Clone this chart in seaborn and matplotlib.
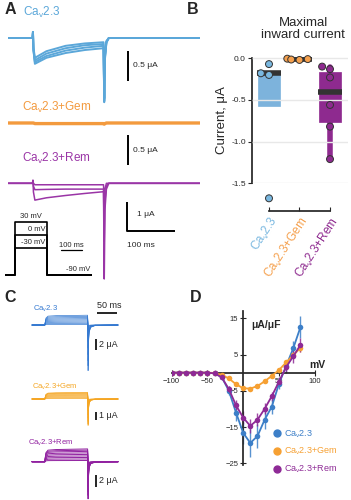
import numpy as np
import pandas as pd
import matplotlib
matplotlib.use("Agg")
import matplotlib.pyplot as plt
import seaborn as sns
from matplotlib.lines import Line2D

sns.set_theme(style="ticks")
plt.rcParams['font.family'] = ['Liberation Sans', 'DejaVu Sans']
plt.rcParams['mathtext.fontset'] = 'custom'
plt.rcParams['mathtext.rm'] = 'Liberation Sans'
plt.rcParams['mathtext.it'] = 'Liberation Sans:italic'
plt.rcParams['mathtext.bf'] = 'Liberation Sans:bold'

# ---------------- data ----------------
CAV = "Ca$_\\mathrm{v}$2.3"
groups = [CAV, CAV + "+Gem", CAV + "+Rem"]

# Panel A: example traces (time in ms, current in uA), key points
a_t = [0, 51, 52, 53, 56, 80, 120, 160, 199, 200.5, 202, 205, 210, 400]
a_wt_traces = [
    [0, 0, 0.10, -0.20, -0.43, -0.33, -0.25, -0.20, -0.17, -1.07, -0.35, -0.08, 0, 0],
    [0, 0, 0.10, -0.20, -0.40, -0.30, -0.21, -0.16, -0.13, -1.05, -0.33, -0.07, 0, 0],
    [0, 0, 0.10, -0.18, -0.37, -0.26, -0.17, -0.12, -0.10, -1.02, -0.30, -0.06, 0, 0],
    [0, 0, 0.10, -0.15, -0.33, -0.22, -0.13, -0.09, -0.07, -1.00, -0.28, -0.05, 0, 0],
]
a_gem_traces = [
    [0, 0, 0, 0, -0.01, -0.01, -0.01, -0.01, -0.01, -0.02, -0.01, 0, 0, 0],
]
a_rem_traces = [
    [0, 0, 0.10, -0.30, -0.58, -0.50, -0.42, -0.35, -0.29, -3.30, -0.90, -0.20, 0, 0],
    [0, 0, 0.10, -0.10, -0.22, -0.21, -0.20, -0.20, -0.20, -2.00, -0.60, -0.10, 0, 0],
    [0, 0, 0.10, 0.00, -0.05, -0.05, -0.05, -0.05, -0.05, -0.80, -0.20, 0.00, 0, 0],
]
# voltage protocol
prot_t = [-48, 0, 0, 150, 150, 366]
prot_steps = [30, 0, -30]
prot_hold = -90

# Panel B: maximal inward current (uA)
box_q1 = [-0.57, -0.03, -0.76]
box_med = [-0.18, -0.01, -0.40]
box_q3 = [-0.16, 0.00, -0.16]
box_lo = [-0.57, -0.03, -1.21]
box_hi = [-0.16, 0.00, -0.10]
pts_wt = [-0.07, -0.18, -0.20, -1.68]
pts_gem = [-0.005, -0.01, -0.015, -0.02]
pts_rem = [-0.10, -0.13, -0.23, -0.56, -0.82, -1.21]

# Panel C: current families (uA)
c_t = [0, 32, 33, 35, 40, 60, 139, 139.6, 140.2, 141.2, 143, 147, 158, 215]
c_step_shape = [0, 0, 0.3, 0.75, 0.95, 1.0, 1.05, 0.4, 0, 0, 0, 0, 0, 0]
c_tail_shape = [0, 0, 0, 0, 0, 0, 0, 0, 1.0, 0.4, 0.15, 0.05, 0.01, 0]
c_wt_amp = [0.1, 0.3, 0.5, 0.7, 0.9, 1.1, 1.3, 1.5, 1.7]
c_wt_tail = [-0.3, -1.0, -2.0, -3.0, -4.2, -5.4, -6.5, -7.4, -8.3]
c_gem_amp = [0.05, 0.15, 0.25, 0.35, 0.45, 0.55, 0.65, 0.72, 0.78]
c_gem_tail = [-0.2, -0.6, -1.0, -1.5, -2.0, -2.4, -2.8, -3.1, -3.3]
c_rem_amp = [0.2, 0.45, 0.7, 0.95, 1.2, 1.45, 1.7, 1.9, 2.1]
c_rem_tail = [-0.5, -1.2, -2.0, -2.8, -3.6, -4.4, -5.2, -5.8, -6.4]

# Panel D: I-V (uA/uF)
d_mv = [-100, -90, -80, -70, -60, -50, -40, -30, -20, -10, 0, 10, 20, 30, 40, 50, 60, 70, 80]
d_wt = [0, 0, 0, 0, 0, 0, -0.2, -1.2, -5.0, -11.0, -16.6, -19.4, -17.5, -13.0, -9.4, -3.1, 1.8, 6.7, 12.5]
d_wt_err = [0, 0, 0, 0, 0, 0, 0.2, 0.5, 1.2, 2.2, 3.0, 3.8, 3.2, 2.5, 2.0, 1.5, 1.5, 2.0, 3.0]
d_gem = [0, 0, 0, 0, 0, 0, -0.1, -0.6, -1.6, -3.2, -4.3, -4.4, -3.7, -2.4, -0.9, 0.7, 2.8, 4.8, 6.8]
d_gem_err = [0, 0, 0, 0, 0, 0, 0.1, 0.2, 0.3, 0.4, 0.5, 0.5, 0.5, 0.5, 0.5, 0.6, 0.8, 1.0, 1.2]
d_rem = [0, 0, 0, 0, 0, 0, -0.2, -1.3, -4.5, -9.0, -12.4, -14.7, -13.0, -10.0, -6.5, -2.5, 1.5, 4.5, 7.6]
d_rem_err = [0, 0, 0, 0, 0, 0, 0.2, 0.4, 0.9, 1.4, 1.8, 2.0, 1.8, 1.5, 1.2, 1.2, 1.5, 1.8, 2.0]

# colours
colA = ['#5ba7d9', '#f39a3e', '#9a35a6']
colB_box = ['#7db3dc', '#f5a04d', '#8e2a8f']
colB_pts = ['#7ab8e0', '#f5a04d', '#8e2a8f']
colC = ['#3479d1', '#f5a623', '#9121a0']
colD = ['#3c7fc8', '#f6a032', '#8e2a96']

# ---------------- figure ----------------
W, H = 351, 500
fig = plt.figure(figsize=(W / 100, H / 100), dpi=100)


def add_ax(x0, y0, x1, y1):
    return fig.add_axes([x0 / W, 1 - y1 / H, (x1 - x0) / W, (y1 - y0) / H])


def draw_traces(ax, t, traces, color, lw):
    rows = [(tt, v, k) for k, tr in enumerate(traces) for tt, v in zip(t, tr)]
    df = pd.DataFrame(rows, columns=['t', 'I', 'trace'])
    sns.lineplot(data=df, x='t', y='I', units='trace', estimator=None, color=color,
                 lw=lw, ax=ax, sort=False, legend=False)


def bar(ax, xs, ys, lw=1.4):
    ax.plot(xs, ys, color='black', lw=lw, solid_capstyle='butt', clip_on=False)


# ---------- Panel A ----------
fig.text(5 / W, 1 - 10 / H, "A", fontsize=11.5, fontweight='bold', va='center', ha='left')

axA1 = add_ax(8, 25, 200, 112)
draw_traces(axA1, a_t, a_wt_traces, colA[0], 1.4)
axA1.set_xlim(0, 400); axA1.set_ylim(-1.233, 0.217)
axA1.axis('off')
axA1.text(31, 0.433, CAV, color=colA[0], fontsize=8.5, ha='left', va='center')
bar(axA1, [250, 250], [-0.22, -0.72])
axA1.text(260, -0.45, "0.5 μA", fontsize=6, ha='left', va='center')

axA2 = add_ax(8, 112, 200, 170)
draw_traces(axA2, a_t, a_gem_traces, colA[1], 2.4)
axA2.set_xlim(0, 400); axA2.set_ylim(-0.783, 0.183)
axA2.axis('off')
axA2.text(29, 0.267, CAV + "+Gem", color=colA[1], fontsize=8.5, ha='left', va='center')
bar(axA2, [250, 250], [-0.2, -0.7])
axA2.text(260, -0.45, "0.5 μA", fontsize=6, ha='left', va='center')

axA3 = add_ax(8, 170, 200, 290)
draw_traces(axA3, a_t, a_rem_traces, colA[2], 1.1)
axA3.set_xlim(0, 400); axA3.set_ylim(-3.68, 0.459)
axA3.axis('off')
axA3.text(29, 0.87, CAV + "+Rem", color=colA[2], fontsize=8.5, ha='left', va='center')
bar(axA3, [248, 248, 348], [-0.63, -1.63, -1.63])
axA3.text(268, -1.09, "1 μA", fontsize=6, ha='left', va='center')
axA3.text(277, -2.16, "100 ms", fontsize=6, ha='center', va='center')

axP = add_ax(5, 214, 92, 280)
for v in prot_steps:
    axP.plot(prot_t, [prot_hold, prot_hold, v, v, prot_hold, prot_hold], color='black', lw=1.2)
axP.set_xlim(-48, 366); axP.set_ylim(-101.3, 47.3)
axP.axis('off')
axP.text(76, 41, "30 mV", fontsize=5.5, ha='center', va='center')
axP.text(143, 13.5, "0 mV", fontsize=5.5, ha='right', va='center')
axP.text(143, -17, "-30 mV", fontsize=5.5, ha='right', va='center')
axP.plot([219, 319], [-34, -34], color='black', lw=0.9)
axP.text(269, -31, "100 ms", fontsize=5.5, ha='center', va='bottom')
axP.text(298, -78, "-90 mV", fontsize=5.5, ha='center', va='center')

# ---------- Panel B ----------
fig.text(187 / W, 1 - 10 / H, "B", fontsize=11.5, fontweight='bold', va='center', ha='left')
fig.text(303 / W, 1 - 29 / H, "Maximal\ninward current", fontsize=9.5, ha='center', va='center',
         linespacing=1.05)

axB = add_ax(252, 56.6, 348, 183.3)
dfB = pd.DataFrame({
    'group': [groups[0]] * len(pts_wt) + [groups[1]] * len(pts_gem) + [groups[2]] * len(pts_rem),
    'value': pts_wt + pts_gem + pts_rem,
})
sns.swarmplot(data=dfB, x='group', y='value', hue='group', order=groups, hue_order=groups,
              palette=dict(zip(groups, colB_pts)), size=5, edgecolor='#333333', linewidth=0.7,
              ax=axB, legend=False, zorder=4)
stats = [dict(med=box_med[i], q1=box_q1[i], q3=box_q3[i], whislo=box_lo[i], whishi=box_hi[i], fliers=[])
         for i in range(3)]
bp = axB.bxp(stats, positions=[0, 1, 2], widths=0.72, patch_artist=True, showfliers=False,
             showcaps=False, manage_ticks=False)
for i, box in enumerate(bp['boxes']):
    box.set_facecolor(colB_box[i]); box.set_edgecolor(colB_box[i]); box.set_linewidth(0.5)
    box.set_zorder(1)
for i, w in enumerate(bp['whiskers']):
    w.set_color(colB_box[i // 2]); w.set_linewidth(4); w.set_zorder(1)
for m in bp['medians']:
    x0, x1 = m.get_xdata()
    m.set_xdata([x0 - 0.04, x1 + 0.04])
    m.set_color('#333333'); m.set_linewidth(4); m.set_zorder(3); m.set_solid_capstyle('butt')
for c in axB.collections:
    c.set_clip_on(False)
axB.set_xlim(-0.557, 2.59)
axB.set_ylim(-1.5, 0.02)
axB.set_yticks([0.0, -0.5, -1.0, -1.5])
axB.set_yticklabels(["0.0", "-0.5", "-1.0", "-1.5"])
axB.set_axisbelow(False)
axB.yaxis.grid(True, color='#e8e8e8', lw=1.0)
axB.xaxis.grid(False)
sns.despine(ax=axB, offset={'bottom': 19.7})
axB.spines['left'].set_bounds(-1.5, 0)
axB.spines['bottom'].set_bounds(0, 2)
axB.tick_params(axis='y', labelsize=6, length=3, width=0.8, pad=1.5)
axB.tick_params(axis='x', direction='in', length=3, width=0.8, pad=3)
axB.set_xticks([0, 1, 2])
axB.set_xticklabels(groups, rotation=57, ha='right', rotation_mode='anchor', fontsize=8.5)
for lab, c in zip(axB.get_xticklabels(), colB_pts):
    lab.set_color(c)
axB.set_xlabel("")
axB.set_ylabel("Current, μA", fontsize=9.5, labelpad=2)

# ---------- Panel C ----------
fig.text(4 / W, 1 - 298 / H, "C", fontsize=11.5, fontweight='bold', va='center', ha='left')

def family(amps, tails):
    return [[a * s + tl * q for s, q in zip(c_step_shape, c_tail_shape)] for a, tl in zip(amps, tails)]

axC1 = add_ax(30, 300, 120, 376)
draw_traces(axC1, c_t, family(c_wt_amp, c_wt_tail), colC[0], 0.5)
axC1.set_xlim(-5, 220); axC1.set_ylim(-9.27, 4.55)
axC1.axis('off')
axC1.text(2.5, 2.9, CAV, color=colC[0], fontsize=5.5, ha='left', va='center')
bar(axC1, [162.5, 212.5], [2.18, 2.18], lw=1.2)
axC1.text(192, 3.5, "50 ms", fontsize=6.5, ha='center', va='center')
bar(axC1, [160, 160], [-2.55, -4.55], lw=1.2)
axC1.text(167.5, -3.55, "2 μA", fontsize=6.5, ha='left', va='center')

axC2 = add_ax(30, 380, 120, 430)
draw_traces(axC2, c_t, family(c_gem_amp, c_gem_tail), colC[1], 0.5)
axC2.set_xlim(-5, 220); axC2.set_ylim(-3.875, 2.375)
axC2.axis('off')
axC2.text(0, 1.5, CAV + "+Gem", color=colC[1], fontsize=5.5, ha='left', va='center')
bar(axC2, [160, 160], [-1.6, -2.62], lw=1.2)
axC2.text(167.5, -2.1, "1 μA", fontsize=6.5, ha='left', va='center')

axC3 = add_ax(30, 438, 120, 500)
draw_traces(axC3, c_t, family(c_rem_amp, c_rem_tail), colC[2], 0.7)
axC3.set_xlim(-5, 220); axC3.set_ylim(-6.6, 4.09)
axC3.axis('off')
axC3.text(-10, 3.2, CAV + "+Rem", color=colC[2], fontsize=5.5, ha='left', va='center')
bar(axC3, [160, 160], [-2.3, -4.3], lw=1.2)
axC3.text(167.5, -3.3, "2 μA", fontsize=6.5, ha='left', va='center')

# ---------- Panel D ----------
fig.text(190 / W, 1 - 298 / H, "D", fontsize=11.5, fontweight='bold', va='center', ha='left')
axD = add_ax(171.6, 311, 314.7, 465.1)
for vals, err, c in [(d_wt, d_wt_err, colD[0]), (d_gem, d_gem_err, colD[1]), (d_rem, d_rem_err, colD[2])]:
    axD.errorbar(d_mv, vals, yerr=err, fmt='none', ecolor=c, elinewidth=1.0, capsize=0, zorder=2, alpha=0.85)
    sns.lineplot(x=d_mv, y=vals, ax=axD, color=c, lw=1.3, marker='o', markersize=4,
                 markeredgewidth=0, zorder=3)
axD.set_xlim(-100, 100); axD.set_ylim(-25.5, 17)
axD.spines['left'].set_position(('data', 0))
axD.spines['bottom'].set_position(('data', 0))
axD.spines['top'].set_visible(False); axD.spines['right'].set_visible(False)
axD.set_xticks([-100, -50, 50, 100])
axD.set_yticks([15, 5, -5, -15, -25])
axD.tick_params(axis='both', direction='inout', length=4, width=0.8, labelsize=5.5, pad=1.5)
axD.text(32, 13.2, "μA/μF", fontsize=7.5, fontweight='bold', ha='center', va='center')
axD.text(104, 2.1, "mV", fontsize=7.5, fontweight='bold', ha='center', va='center')
handles = [Line2D([], [], marker='o', ls='', color=c, markersize=5) for c in colD]
leg = axD.legend(handles, groups, loc='upper left', bbox_to_anchor=(0.70, 0.24), frameon=False,
                 fontsize=6.5, handletextpad=0.1, labelspacing=0.7, borderpad=0, borderaxespad=0,
                 handlelength=1.2)
for txt, c in zip(leg.get_texts(), colD):
    txt.set_color(c)

fig.savefig("out.png", dpi=100)
